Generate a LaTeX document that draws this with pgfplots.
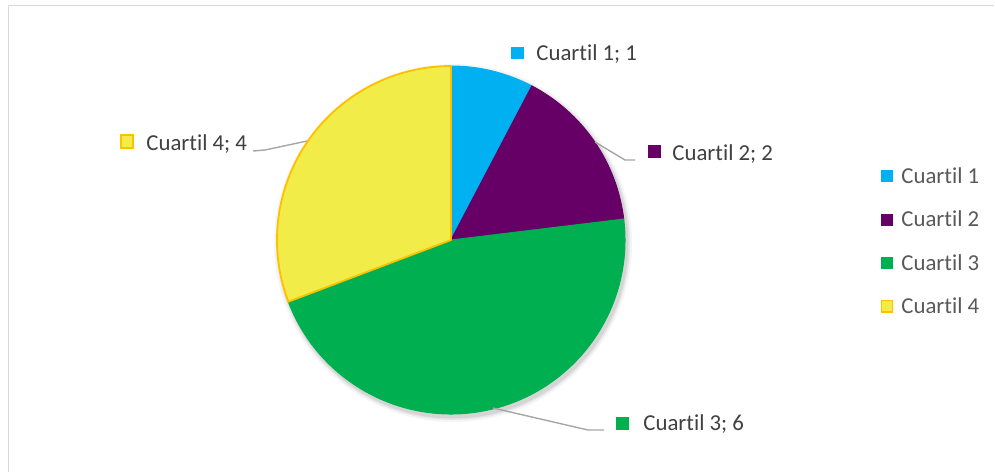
\documentclass[border=0pt]{standalone}
\usepackage{pgfplots}
\pgfplotsset{compat=1.18}
\usepackage{fontspec}
\setmainfont[Ligatures={NoCommon}]{Carlito}

\definecolor{c1}{HTML}{00B0F0}
\definecolor{c2}{HTML}{660066}
\definecolor{c3}{HTML}{00B050}
\definecolor{c4}{HTML}{F2EC48}
\definecolor{c4edge}{HTML}{FFC000}
\definecolor{labtxt}{HTML}{404040}
\definecolor{legtxt}{HTML}{595959}
\definecolor{leader}{HTML}{A6A6A6}
\definecolor{frame}{HTML}{D9D9D9}

\tikzset{
  lab/.style={anchor=base west, inner sep=0pt, text=labtxt, font=\fontsize{11.4}{13.7}\selectfont},
  leg/.style={lab, text=legtxt},
}

\begin{document}
\begin{tikzpicture}
\begin{axis}[
    % 1 px of the reference = 0.5pt
    scale only axis,
    width=497.5pt, height=236.5pt,
    xmin=0, xmax=995, ymin=0, ymax=473,
    y dir=reverse,
    hide axis,
    clip=false,
]
  % chart frame (top and left edges visible)
  \draw[frame, line width=0.9pt] (axis cs:8.5,472) -- (axis cs:8.5,5.5) -- (axis cs:994,5.5);

  % soft shadow of the pie
  \foreach \r/\o in {179/0.04,177/0.06,175.5/0.08} {
    \edef\tmp{\noexpand\fill[black, opacity=\o] (axis cs:453,243) circle[radius=\r*0.5pt];}
    \tmp
  }

  % pie: values 1, 2, 6, 4 (total 13), clockwise from top
  \xdef\cum{0}
  \foreach \v/\c/\e/\w in {1/c1/c1/0.5, 2/c2/c2/0.5, 6/c3/c3/0.5, 4/c4/c4edge/0.9} {
    \pgfmathsetmacro\aa{90-\cum*360/13}
    \pgfmathsetmacro\newcum{\cum+\v}
    \xdef\cum{\newcum}
    \pgfmathsetmacro\bb{90-\cum*360/13}
    \edef\tmp{\noexpand\filldraw[fill=\c, draw=\e, line width=\w pt, line join=round]
      (axis cs:451,240) -- ++(\aa:87pt) arc[start angle=\aa, end angle=\bb, radius=87pt] -- cycle;}
    \tmp
  }

  % leader lines
  \draw[leader, line width=0.7pt] (axis cs:595,142) -- (axis cs:625,160) -- (axis cs:635,160);
  \draw[leader, line width=0.7pt] (axis cs:307,141) -- (axis cs:265,150) -- (axis cs:253,151);
  \draw[leader, line width=0.7pt] (axis cs:493,408) -- (axis cs:588,430) -- (axis cs:604,430);

  % data labels
  \fill[c1] (axis cs:511,47) rectangle (axis cs:524,59);
  \node[lab] at (axis cs:536,60.5) {Cuartil 1; 1};
  \fill[c2] (axis cs:648,145) rectangle (axis cs:661,158);
  \node[lab] at (axis cs:672,160) {Cuartil 2; 2};
  \fill[c3] (axis cs:616,417) rectangle (axis cs:629,430);
  \node[lab] at (axis cs:643,430) {Cuartil 3; 6};
  \filldraw[fill=c4, draw=c4edge, line width=0.8pt] (axis cs:121,135) rectangle (axis cs:133,148);
  \node[lab] at (axis cs:146,150) {Cuartil 4; 4};

  % legend
  \fill[c1] (axis cs:881,170) rectangle (axis cs:893,182);
  \node[leg] at (axis cs:901,183) {Cuartil 1};
  \fill[c2] (axis cs:881,213.5) rectangle (axis cs:893,225.5);
  \node[leg] at (axis cs:901,226.5) {Cuartil 2};
  \fill[c3] (axis cs:881,257) rectangle (axis cs:893,269);
  \node[leg] at (axis cs:901,270) {Cuartil 3};
  \filldraw[fill=c4, draw=c4edge, line width=0.8pt] (axis cs:881.5,300.5) rectangle (axis cs:892.5,312);
  \node[leg] at (axis cs:901,313.5) {Cuartil 4};
\end{axis}
\pgfresetboundingbox
\useasboundingbox (current axis.south west) rectangle (current axis.north east);
\end{tikzpicture}
\end{document}
